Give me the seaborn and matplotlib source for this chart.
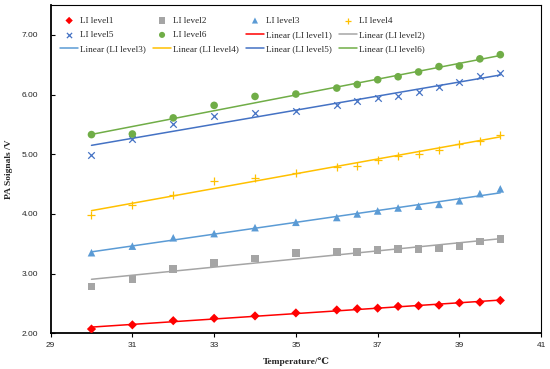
"""PA signal vs temperature for six LI levels, with linear trendlines."""

import numpy as np
import matplotlib
matplotlib.use('Agg')
import matplotlib.pyplot as plt
import seaborn as sns

temps = [30, 31, 32, 33, 34, 35, 36, 36.5, 37, 37.5, 38, 38.5, 39, 39.5, 40]

level1 = [2.07, 2.14, 2.21, 2.25, 2.29, 2.34, 2.39, 2.41, 2.42, 2.45, 2.46, 2.47, 2.51, 2.52, 2.55]
level2 = [2.78, 2.91, 3.08, 3.18, 3.25, 3.34, 3.36, 3.36, 3.40, 3.41, 3.41, 3.42, 3.46, 3.54, 3.58]
level3 = [3.35, 3.46, 3.60, 3.67, 3.77, 3.86, 3.94, 4.00, 4.05, 4.10, 4.13, 4.16, 4.22, 4.34, 4.42]
level4 = [3.98, 4.15, 4.32, 4.55, 4.60, 4.69, 4.79, 4.81, 4.91, 4.97, 5.01, 5.07, 5.18, 5.23, 5.33]
level5 = [4.99, 5.26, 5.51, 5.64, 5.69, 5.72, 5.82, 5.89, 5.94, 5.98, 6.05, 6.12, 6.22, 6.31, 6.37]
level6 = [5.33, 5.34, 5.61, 5.82, 5.97, 6.01, 6.11, 6.17, 6.25, 6.30, 6.38, 6.47, 6.48, 6.60, 6.67]

series_names = ['LI level1', 'LI level2', 'LI level3', 'LI level4', 'LI level5', 'LI level6']
series_values = [level1, level2, level3, level4, level5, level6]
colors = ['#FF0000', '#A5A5A5', '#5B9BD5', '#FFC000', '#4472C4', '#70AD47']
markers = ['D', 's', '^', '+', 'x', 'o']
sizes = [22, 30, 30, 32, 22, 30]

x_ticks = [29, 31, 33, 35, 37, 39, 41]
y_ticks = [2, 3, 4, 5, 6, 7]

sns.set_style('white')
plt.rcParams['font.family'] = ['Liberation Serif', 'DejaVu Serif']

fig = plt.figure(figsize=(5.5, 3.69), dpi=100)
ax = fig.add_axes([0.092, 0.097, 0.892, 0.889])

for name, vals, col, mk, sz in zip(series_names, series_values, colors, markers, sizes):
    if mk in ('+', 'x'):
        sns.scatterplot(x=temps, y=vals, ax=ax, marker=mk, s=sz, color=col,
                        linewidth=0.9, label=name, zorder=3)
    else:
        sns.scatterplot(x=temps, y=vals, ax=ax, marker=mk, s=sz, color=col,
                        edgecolor='none', linewidth=0, label=name, zorder=3)
    sns.regplot(x=np.array(temps), y=np.array(vals), ax=ax, scatter=False, ci=None,
                color=col, label='Linear (%s)' % name, line_kws={'linewidth': 1.1})

handles, labels = ax.get_legend_handles_labels()
lookup = dict(zip(labels, handles))
row_major = series_names + ['Linear (%s)' % n for n in series_names]
# legend fills column by column, so reorder to get rows like the original
order = [row_major[r * 4 + c] for c in range(4) for r in range(3)]
ax.legend([lookup[k] for k in order], order, ncol=4, frameon=False,
          loc='upper left', bbox_to_anchor=(0.006, 0.985), fontsize=6.6,
          markerscale=0.8, handlelength=2.0, columnspacing=0.75, labelspacing=0.65,
          handletextpad=0.2, borderaxespad=0.3)

ax.set_xlim(29, 41)
ax.set_ylim(2, 7.5)
ax.set_xticks(x_ticks)
ax.set_yticks(y_ticks)
ax.set_yticklabels(['%.2f' % v for v in y_ticks])
for lab in ax.get_xticklabels() + ax.get_yticklabels():
    lab.set_fontfamily('Liberation Sans')
    lab.set_fontsize(6)

ax.tick_params(axis='x', direction='out', length=3, width=0.8, color='black', pad=3)
ax.tick_params(axis='y', direction='in', length=3, width=0.8, color='black', pad=9)
ax.tick_params(left=True, bottom=True)

for side in ['left', 'bottom']:
    ax.spines[side].set_linewidth(1.3)
    ax.spines[side].set_color('black')
for side in ['top', 'right']:
    ax.spines[side].set_linewidth(0.8)
    ax.spines[side].set_color('black')

ax.set_xlabel('Temperature/\u2103', fontsize=6.8, fontweight='bold', labelpad=6)
ax.set_ylabel('PA Soignals /V', fontsize=6.8, fontweight='bold', labelpad=6)

fig.savefig('out.png', dpi=100)
